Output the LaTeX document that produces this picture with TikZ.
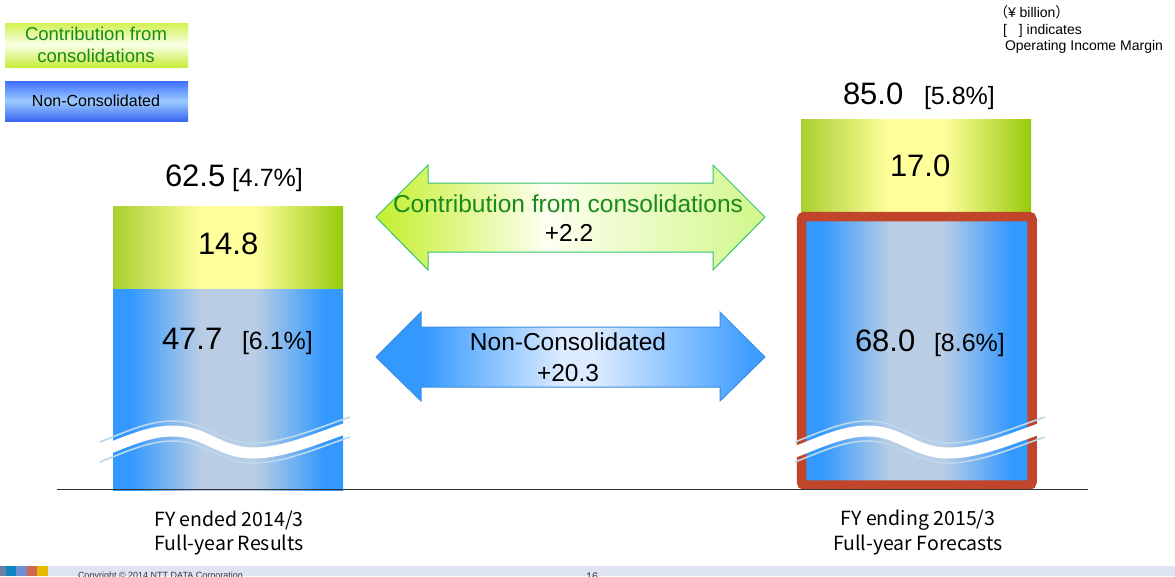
\documentclass[tikz,border=0pt]{standalone}
\usepackage{fontspec}
\setmainfont{Liberation Sans}
\newfontfamily\jpfont{Noto Sans CJK JP}

% palette
\definecolor{txtgreen}{HTML}{1A8A1A}
\definecolor{lgTop}{HTML}{D2F254}
\definecolor{lgMid}{HTML}{F8FFE6}
\definecolor{lgBot}{HTML}{C8EC3C}
\definecolor{lbTop}{HTML}{3F6EFF}
\definecolor{lbMid}{HTML}{9CCBFF}
\definecolor{lbBot}{HTML}{3A66F0}
\definecolor{gbL}{HTML}{A8CF2E}
\definecolor{gbC}{HTML}{FFFF9C}
\definecolor{gbR}{HTML}{98CB0C}
\definecolor{bbE}{HTML}{3399FF}
\definecolor{bbC}{HTML}{B9CDE4}
\definecolor{gaL}{HTML}{C4EF2C}
\definecolor{gaC}{HTML}{FDFFF0}
\definecolor{gaR}{HTML}{D2F78A}
\definecolor{gaLine}{HTML}{34C472}
\definecolor{baL}{HTML}{3399FF}
\definecolor{baC}{HTML}{DCEBFF}
\definecolor{baR}{HTML}{3F9DFF}
\definecolor{baLine}{HTML}{3A8EE0}
\definecolor{frame}{HTML}{C0452A}
\definecolor{wavelite}{HTML}{BCD8EC}
\definecolor{axis}{HTML}{333333}
\definecolor{footband}{HTML}{DFE4F2}
\definecolor{sqA}{HTML}{6B7FA0}
\definecolor{sqB}{HTML}{0C84C6}
\definecolor{sqC}{HTML}{6E8FD0}
\definecolor{sqD}{HTML}{D06850}
\definecolor{sqE}{HTML}{E8B800}

% gradients across the bars and the arrows
\pgfdeclarehorizontalshading{greenbar}{100bp}{color(0bp)=(gbL); color(25bp)=(gbL); color(44bp)=(gbC); color(56bp)=(gbC); color(75bp)=(gbR); color(100bp)=(gbR)}
\pgfdeclarehorizontalshading{bluebar}{100bp}{color(0bp)=(bbE); color(25bp)=(bbE); color(29bp)=(bbE); color(44bp)=(bbC); color(56bp)=(bbC); color(71bp)=(bbE); color(75bp)=(bbE); color(100bp)=(bbE)}
\pgfdeclarehorizontalshading{greenarrow}{100bp}{color(0bp)=(gaL); color(25bp)=(gaL); color(47bp)=(gaC); color(75bp)=(gaR); color(100bp)=(gaR)}
\pgfdeclarehorizontalshading{bluearrow}{100bp}{color(0bp)=(baL); color(25bp)=(baL); color(31bp)=(baL); color(49bp)=(baC); color(53bp)=(baC); color(73bp)=(baR); color(75bp)=(baR); color(100bp)=(baR)}

\tikzset{
  plain/.style={inner sep=0pt, outer sep=0pt},
  bignum/.style={plain, anchor=base west, font=\fontsize{31pt}{36pt}\selectfont},
  margin/.style={plain, anchor=base west, font=\fontsize{25pt}{30pt}\selectfont},
  arrowtxt/.style={plain, font=\fontsize{24.5pt}{29pt}\selectfont},
  legtxt/.style={plain, align=center},
  note/.style={plain, anchor=base west, font=\fontsize{14pt}{16pt}\selectfont},
  fylabel/.style={plain, font=\jpfont\fontsize{19.5pt}{24pt}\selectfont},
  wavethin/.style={draw=wavelite, line width=1.6pt},
  waveband/.style={draw=white, line width=11pt},
  breakwave/.pic={
    \foreach \s in {10,-10}
      \draw[wavethin, yshift=\s pt] (100,452) .. controls (130,440) and (150,431) .. (173,431)
        .. controls (205,431) and (220,453) .. (253,453)
        .. controls (285,453) and (320,437) .. (350,427);
    \draw[waveband] (100,452) .. controls (130,440) and (150,431) .. (173,431)
        .. controls (205,431) and (220,453) .. (253,453)
        .. controls (285,453) and (320,437) .. (350,427);
  }
}

\begin{document}
\begin{tikzpicture}[x=1pt,y=-1pt]
\useasboundingbox (0,0) rectangle (1175,576);
\clip (0,0) rectangle (1175,576);
\fill[white] (0,0) rectangle (1175,576);

% legend
\path[top color=lgTop, bottom color=lgBot, middle color=lgMid] (5,23) rectangle (188,67);
\node[legtxt, text=txtgreen, font=\fontsize{18.5pt}{22.5pt}\selectfont] (legC) at (96,45) {Contribution from\\consolidations};
\path[top color=lbTop, bottom color=lbBot, middle color=lbMid] (5,81) rectangle (188,121);
\node[legtxt, font=\fontsize{16pt}{19pt}\selectfont] (legN) at (96,101) {Non-Consolidated};

% unit note
\node[note] (unit) at (994,17) {{\jpfont （}¥ billion{\jpfont ）}};
\node[note] (ind) at (1003,34) {[\hspace{12pt}] indicates};
\node[note] (oim) at (1005,50) {Operating Income Margin};

% left bar: FY2014/3 results
\path[shading=greenbar] (113,206) rectangle (343,289);
\path[shading=bluebar] (113,289) rectangle (343,490);
\pic at (0,0) {breakwave};
\node[bignum] (tot14) at (165,186) {62.5};
\node[margin] (mrg14) at (232,186) {[4.7\%]};
\node[bignum] (con14) at (198,254) {14.8};
\node[bignum] (non14) at (162,349) {47.7};
\node[margin] (nmr14) at (242,349) {[6.1\%]};

% right bar: FY2015/3 forecasts
\path[shading=greenbar] (801,119) rectangle (1031,215);
\path[shading=bluebar] (804,220) rectangle (1029,486);
\draw[frame, line width=9.5pt, rounded corners=3pt] (801.5,216.5) rectangle (1032,485);
\pic at (695,0) {breakwave};
\node[bignum] (tot15) at (843,104) {85.0};
\node[margin] (mrg15) at (924,104) {[5.8\%]};
\node[bignum] (con15) at (890,176.5) {17.0};
\node[bignum] (non15) at (855,351) {68.0};
\node[margin] (nmr15) at (934,351) {[8.6\%]};

% axis line
\draw[axis, line width=1.5pt] (57,489.5) -- (1088,489.5);

% difference arrows
\path[shading=greenarrow, draw=gaLine, line width=1pt]
  (376,217) -- (428,165) -- (428,183) -- (713,183) -- (713,165) -- (765,217)
  -- (713,270) -- (713,252) -- (428,252) -- (428,270) -- cycle;
\node[arrowtxt, text=txtgreen] (dcon) at (568,204) {Contribution from consolidations};
\node[arrowtxt] (dconv) at (569,233) {+2.2};

\path[shading=bluearrow, draw=baLine, line width=1pt]
  (376,357) -- (421,312) -- (421,327) -- (720,327) -- (720,312) -- (765,357)
  -- (720,401) -- (720,387) -- (421,387) -- (421,401) -- cycle;
\node[arrowtxt] (dnon) at (568,342) {Non-Consolidated};
\node[arrowtxt] (dnonv) at (568,373) {+20.3};

% period labels
\node[fylabel] (fy14) at (229,520) {FY ended 2014/3};
\node[fylabel] (fy14b) at (229,545) {Full-year Results};
\node[fylabel] (fy15) at (918,520) {FY ending 2015/3};
\node[fylabel] (fy15b) at (918,545) {Full-year Forecasts};

% footer strip, its text running off the lower edge
\fill[footband] (48,566) rectangle (1175,576);
\fill[sqA] (0,566) rectangle (6,576);
\fill[sqB] (6,566) rectangle (16,576);
\fill[sqC] (16,566) rectangle (27,576);
\fill[sqD] (27,566) rectangle (37,576);
\fill[sqE] (37,566) rectangle (48,576);
\node[plain, anchor=base west, font=\fontsize{9pt}{10pt}\selectfont, text=axis] (copy) at (78,578) {Copyright © 2014 NTT DATA Corporation};
\node[plain, anchor=base west, font=\fontsize{11pt}{12pt}\selectfont, text=axis] (page) at (586,580) {16};
\end{tikzpicture}
\end{document}
